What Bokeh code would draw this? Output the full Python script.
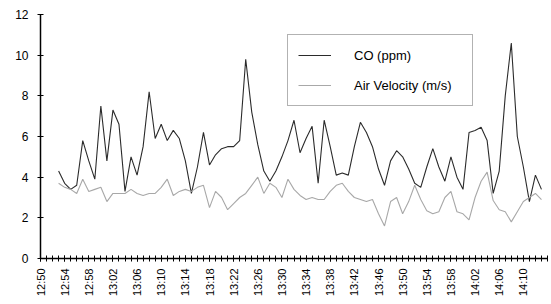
import numpy as np
from bokeh.plotting import figure
from bokeh.models import FixedTicker, Legend, LegendItem
from bokeh.embed import file_html
from bokeh.resources import INLINE

# ---- data ----
start_time = "12:53"
co_ppm = [4.3, 3.7, 3.4, 3.6, 5.8, 4.8, 3.9, 7.5, 4.8, 7.3,
          6.6, 3.3, 5.0, 4.1, 5.5, 8.2, 5.9, 6.6, 5.8, 6.3,
          5.9, 4.8, 3.2, 4.5, 6.2, 4.6, 5.1, 5.4, 5.5, 5.5,
          5.8, 9.8, 7.2, 5.6, 4.3, 3.8, 4.3, 5.0, 5.8, 6.8,
          5.2, 5.9, 6.5, 3.7, 6.8, 5.5, 4.1, 4.2, 4.1, 5.5,
          6.7, 6.2, 5.5, 4.4, 3.6, 4.8, 5.3, 5.0, 4.4, 3.7,
          3.5, 4.5, 5.4, 4.5, 3.8, 5.0, 4.0, 3.4, 6.2, 6.3,
          6.45, 5.8, 3.2, 4.3, 8.0, 10.6, 6.0, 4.5, 2.8, 4.1,
          3.4]
air_velocity = [3.7, 3.5, 3.4, 3.2, 3.9, 3.3, 3.4, 3.5, 2.8, 3.2,
                3.2, 3.2, 3.4, 3.2, 3.1, 3.2, 3.2, 3.5, 3.9, 3.1,
                3.3, 3.4, 3.3, 3.5, 3.6, 2.5, 3.3, 3.0, 2.4, 2.7,
                3.0, 3.2, 3.6, 4.0, 3.2, 3.7, 3.5, 3.0, 3.9, 3.4,
                3.1, 2.9, 3.0, 2.9, 2.9, 3.3, 3.6, 3.7, 3.3, 3.0,
                2.9, 2.8, 2.9, 2.2, 1.6, 2.8, 3.0, 2.2, 2.8, 3.6,
                2.9, 2.35, 2.2, 2.3, 3.0, 3.3, 2.3, 2.2, 1.9, 3.0,
                3.8, 4.25, 2.85, 2.4, 2.3, 1.8, 2.3, 2.8, 3.0, 3.2,
                2.9]
tick_labels = ["12:50", "12:54", "12:58", "13:02", "13:06", "13:10",
               "13:14", "13:18", "13:22", "13:26", "13:30", "13:34",
               "13:38", "13:42", "13:46", "13:50", "13:54", "13:58",
               "14:02", "14:06", "14:10"]
end_time = "14:14"
y_ticks = [0, 2, 4, 6, 8, 10, 12]
series_names = ["CO (ppm)", "Air Velocity (m/s)"]


def to_min(s):
    h, m = s.split(":")
    return int(h) * 60 + int(m)


origin = to_min(tick_labels[0])
x_start = to_min(start_time) - origin
x_end = to_min(end_time) - origin
minutes = [x_start + i for i in range(len(co_ppm))]
major = [to_min(t) - origin for t in tick_labels]

FONT = "Liberation Sans"

p = figure(width=549, height=300, x_range=(0, x_end), y_range=(0, 12),
           output_backend="svg", toolbar_location=None,
           min_border_left=40, min_border_top=14, min_border_bottom=42,
           min_border_right=2)
p.outline_line_color = None
p.xgrid.visible = False
p.ygrid.visible = False
p.background_fill_color = "white"
p.border_fill_color = "white"

r_co = p.line(minutes, co_ppm, line_color="#2b2b2b", line_width=1.1)
r_av = p.line(minutes, air_velocity, line_color="#a8a8a8", line_width=1.1)

# x axis
xa = p.xaxis[0]
xa.ticker = FixedTicker(ticks=major, minor_ticks=list(range(0, x_end + 1)))
xa.major_label_overrides = {m: t for m, t in zip(major, tick_labels)}
xa.major_label_orientation = np.pi / 2
xa.major_label_text_font = FONT
xa.major_label_text_font_size = "11px"
xa.major_label_text_color = "black"
xa.major_label_standoff = 7
xa.axis_line_color = "black"
xa.axis_line_width = 1.5
xa.major_tick_in = 3
xa.major_tick_out = 3
xa.minor_tick_in = 3
xa.minor_tick_out = 3
xa.major_tick_line_color = "black"
xa.minor_tick_line_color = "black"

# y axis
ya = p.yaxis[0]
ya.ticker = FixedTicker(ticks=y_ticks, minor_ticks=[])
ya.major_label_text_font = FONT
ya.major_label_text_font_size = "12px"
ya.major_label_text_color = "black"
ya.major_label_standoff = 9
ya.axis_line_color = "black"
ya.axis_line_width = 1.5
ya.major_tick_in = 3
ya.major_tick_out = 3
ya.major_tick_line_color = "black"
ya.major_tick_line_width = 1.2

legend = Legend(items=[LegendItem(label=series_names[0], renderers=[r_co]),
                       LegendItem(label=series_names[1], renderers=[r_av])],
                location=(247, 152))
legend.padding = 10
legend.spacing = 10
legend.margin = 0
legend.glyph_width = 33
legend.glyph_height = 20
legend.label_height = 20
legend.label_width = 108
legend.label_standoff = 23
legend.label_text_font = FONT
legend.label_text_font_size = "13px"
legend.label_text_color = "black"
legend.border_line_color = "#666666"
legend.border_line_width = 1
legend.background_fill_color = "white"
legend.background_fill_alpha = 1.0
p.add_layout(legend)

open("out.html", "w").write(file_html(p, INLINE))
